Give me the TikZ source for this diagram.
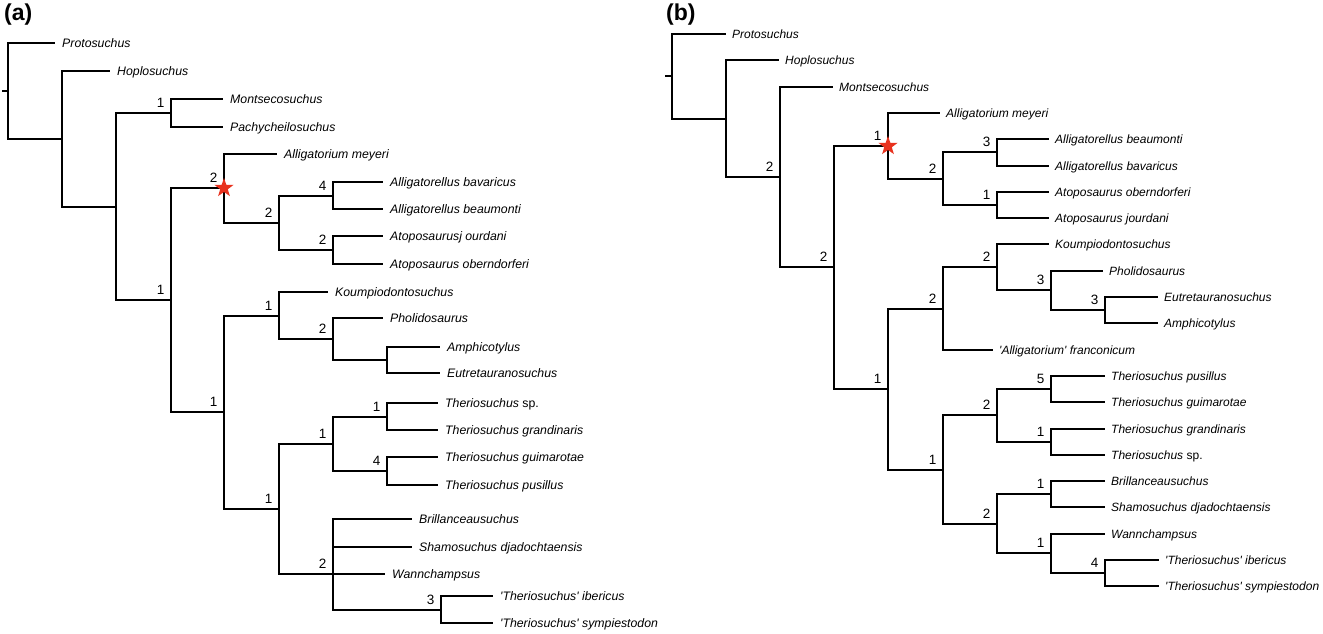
\documentclass[tikz,border=0pt]{standalone}
\usepackage{fontspec}
\setmainfont{Liberation Sans}
\usetikzlibrary{shapes.geometric}
\definecolor{starred}{HTML}{E8321E}
\begin{document}
\begin{tikzpicture}[x=1pt,y=-1pt,
  br/.style={line width=2pt,black},
  leaf/.style={anchor=base west,inner sep=0pt,font=\fontsize{12.3}{14}\selectfont\itshape,xshift=7pt,yshift=-4.8pt},
  leafb/.style={anchor=base west,inner sep=0pt,font=\fontsize{12}{14}\selectfont\itshape,xshift=6pt,yshift=-4.6pt},
  supp/.style={anchor=base east,inner sep=0pt,font=\fontsize{13.5}{15}\selectfont,xshift=-6.5pt,yshift=5.5pt},
  panel/.style={anchor=base west,inner sep=0pt,font=\fontsize{23}{26}\selectfont\bfseries},
  starnode/.style={star,star points=5,star point ratio=2.5,minimum size=20pt,inner sep=0pt,fill=starred,draw=none}]
\useasboundingbox (0,0) rectangle (1323,633);

% ---------------- panel (a) ----------------
\node[panel] (pa) at (4,20.5) {(a)};
\coordinate (aS) at (2,91);
\coordinate (aR) at (8,91);
\coordinate (a1) at (62,139);
\coordinate (a2) at (116,207);
\coordinate (a3) at (171,113);
\coordinate (a4) at (171,300);
\coordinate (a5) at (224,188);
\coordinate (a6) at (224,412);
\coordinate (a7) at (279,223);
\coordinate (a8) at (333,196);
\coordinate (a9) at (333,250);
\coordinate (a10) at (279,316);
\coordinate (a11) at (279,509);
\coordinate (a12) at (333,339);
\coordinate (a13) at (387,360);
\coordinate (a14) at (333,444);
\coordinate (a15) at (333,574);
\coordinate (a16) at (387,417);
\coordinate (a17) at (387,471);
\coordinate (a18) at (441,610);

\coordinate (aL1) at (55,43);
\coordinate (aL2) at (110,71);
\coordinate (aL3) at (223,99);
\coordinate (aL4) at (223,127);
\coordinate (aL5) at (277,154);
\coordinate (aL6) at (383,182);
\coordinate (aL7) at (383,209);
\coordinate (aL8) at (383,236);
\coordinate (aL9) at (383,264);
\coordinate (aL10) at (328,292);
\coordinate (aL11) at (383,318);
\coordinate (aL12) at (440,347);
\coordinate (aL13) at (440,373);
\coordinate (aL14) at (438,403);
\coordinate (aL15) at (438,430);
\coordinate (aL16) at (438,457);
\coordinate (aL17) at (438,485);
\coordinate (aL18) at (412,519);
\coordinate (aL19) at (412,547);
\coordinate (aL20) at (385,574);
\coordinate (aL21) at (493,596);
\coordinate (aL22) at (493,623);

\draw[br] (aS) -- (aR);
\draw[br] (aR) |- (aL1);
\draw[br] (aR) |- (a1);
\draw[br] (a1) |- (aL2);
\draw[br] (a1) |- (a2);
\draw[br] (a2) |- (a3);
\draw[br] (a2) |- (a4);
\draw[br] (a3) |- (aL3);
\draw[br] (a3) |- (aL4);
\draw[br] (a4) |- (a5);
\draw[br] (a4) |- (a6);
\draw[br] (a5) |- (aL5);
\draw[br] (a5) |- (a7);
\draw[br] (a7) |- (a8);
\draw[br] (a7) |- (a9);
\draw[br] (a8) |- (aL6);
\draw[br] (a8) |- (aL7);
\draw[br] (a9) |- (aL8);
\draw[br] (a9) |- (aL9);
\draw[br] (a6) |- (a10);
\draw[br] (a6) |- (a11);
\draw[br] (a10) |- (aL10);
\draw[br] (a10) |- (a12);
\draw[br] (a12) |- (aL11);
\draw[br] (a12) |- (a13);
\draw[br] (a13) |- (aL12);
\draw[br] (a13) |- (aL13);
\draw[br] (a11) |- (a14);
\draw[br] (a11) |- (a15);
\draw[br] (a14) |- (a16);
\draw[br] (a14) |- (a17);
\draw[br] (a16) |- (aL14);
\draw[br] (a16) |- (aL15);
\draw[br] (a17) |- (aL16);
\draw[br] (a17) |- (aL17);
\draw[br] (a15) |- (aL18);
\draw[br] (a15) |- (aL19);
\draw[br] (a15) |- (aL20);
\draw[br] (a15) |- (a18);
\draw[br] (a18) |- (aL21);
\draw[br] (a18) |- (aL22);

\node[leaf] (taL1) at (aL1) {Protosuchus};
\node[leaf] (taL2) at (aL2) {Hoplosuchus};
\node[leaf] (taL3) at (aL3) {Montsecosuchus};
\node[leaf] (taL4) at (aL4) {Pachycheilosuchus};
\node[leaf] (taL5) at (aL5) {Alligatorium meyeri};
\node[leaf] (taL6) at (aL6) {Alligatorellus bavaricus};
\node[leaf] (taL7) at (aL7) {Alligatorellus beaumonti};
\node[leaf] (taL8) at (aL8) {Atoposaurusj ourdani};
\node[leaf] (taL9) at (aL9) {Atoposaurus oberndorferi};
\node[leaf] (taL10) at (aL10) {Koumpiodontosuchus};
\node[leaf] (taL11) at (aL11) {Pholidosaurus};
\node[leaf] (taL12) at (aL12) {Amphicotylus};
\node[leaf] (taL13) at (aL13) {Eutretauranosuchus};
\node[leaf] (taL14) at (aL14) {Theriosuchus\/ \upshape sp.};
\node[leaf] (taL15) at (aL15) {Theriosuchus grandinaris};
\node[leaf] (taL16) at (aL16) {Theriosuchus guimarotae};
\node[leaf] (taL17) at (aL17) {Theriosuchus pusillus};
\node[leaf] (taL18) at (aL18) {Brillanceausuchus};
\node[leaf] (taL19) at (aL19) {Shamosuchus djadochtaensis};
\node[leaf] (taL20) at (aL20) {Wannchampsus};
\node[leaf] (taL21) at (aL21) {\textquotesingle Theriosuchus\textquotesingle\ ibericus};
\node[leaf] (taL22) at (aL22) {\textquotesingle Theriosuchus\textquotesingle\ sympiestodon};

\node[supp] (sa3) at (a3) {1};
\node[supp] (sa4) at (a4) {1};
\node[supp] (sa5) at (a5) {2};
\node[supp] (sa6) at (a6) {1};
\node[supp] (sa7) at (a7) {2};
\node[supp] (sa8) at (a8) {4};
\node[supp] (sa9) at (a9) {2};
\node[supp] (sa10) at (a10) {1};
\node[supp] (sa11) at (a11) {1};
\node[supp] (sa12) at (a12) {2};
\node[supp] (sa14) at (a14) {1};
\node[supp] (sa15) at (a15) {2};
\node[supp] (sa16) at (a16) {1};
\node[supp] (sa17) at (a17) {4};
\node[supp] (sa18) at (a18) {3};

\node[starnode] (stara) at (a5) {};

% ---------------- panel (b) ----------------
\node[panel] (pb) at (666,20.5) {(b)};
\coordinate (bS) at (665,76);
\coordinate (bR) at (672,76);
\coordinate (b1) at (726,119);
\coordinate (b2) at (780,177);
\coordinate (b3) at (834,267);
\coordinate (b4) at (888,146);
\coordinate (b5) at (888,389);
\coordinate (b6) at (943,179);
\coordinate (b7) at (997,152);
\coordinate (b8) at (997,205);
\coordinate (b9) at (943,309);
\coordinate (b10) at (943,470);
\coordinate (b11) at (997,267);
\coordinate (b12) at (1051,290);
\coordinate (b13) at (1105,310);
\coordinate (b14) at (997,415);
\coordinate (b15) at (997,524);
\coordinate (b16) at (1051,389);
\coordinate (b17) at (1051,442);
\coordinate (b18) at (1051,494);
\coordinate (b19) at (1051,553);
\coordinate (b20) at (1105,573);

\coordinate (bL1) at (726,34);
\coordinate (bL2) at (779,60);
\coordinate (bL3) at (833,87);
\coordinate (bL4) at (940,113);
\coordinate (bL5) at (1049,139);
\coordinate (bL6) at (1049,166);
\coordinate (bL7) at (1049,192);
\coordinate (bL8) at (1049,218);
\coordinate (bL9) at (1049,244);
\coordinate (bL10) at (1103,271);
\coordinate (bL11) at (1158,297);
\coordinate (bL12) at (1158,323);
\coordinate (bL13) at (993,350);
\coordinate (bL14) at (1105,376);
\coordinate (bL15) at (1105,402);
\coordinate (bL16) at (1105,429);
\coordinate (bL17) at (1105,455);
\coordinate (bL18) at (1105,481);
\coordinate (bL19) at (1105,507);
\coordinate (bL20) at (1105,534);
\coordinate (bL21) at (1159,560);
\coordinate (bL22) at (1159,586);

\draw[br] (bS) -- (bR);
\draw[br] (bR) |- (bL1);
\draw[br] (bR) |- (b1);
\draw[br] (b1) |- (bL2);
\draw[br] (b1) |- (b2);
\draw[br] (b2) |- (bL3);
\draw[br] (b2) |- (b3);
\draw[br] (b3) |- (b4);
\draw[br] (b3) |- (b5);
\draw[br] (b4) |- (bL4);
\draw[br] (b4) |- (b6);
\draw[br] (b6) |- (b7);
\draw[br] (b6) |- (b8);
\draw[br] (b7) |- (bL5);
\draw[br] (b7) |- (bL6);
\draw[br] (b8) |- (bL7);
\draw[br] (b8) |- (bL8);
\draw[br] (b5) |- (b9);
\draw[br] (b5) |- (b10);
\draw[br] (b9) |- (b11);
\draw[br] (b9) |- (bL13);
\draw[br] (b11) |- (bL9);
\draw[br] (b11) |- (b12);
\draw[br] (b12) |- (bL10);
\draw[br] (b12) |- (b13);
\draw[br] (b13) |- (bL11);
\draw[br] (b13) |- (bL12);
\draw[br] (b10) |- (b14);
\draw[br] (b10) |- (b15);
\draw[br] (b14) |- (b16);
\draw[br] (b14) |- (b17);
\draw[br] (b16) |- (bL14);
\draw[br] (b16) |- (bL15);
\draw[br] (b17) |- (bL16);
\draw[br] (b17) |- (bL17);
\draw[br] (b15) |- (b18);
\draw[br] (b15) |- (b19);
\draw[br] (b18) |- (bL18);
\draw[br] (b18) |- (bL19);
\draw[br] (b19) |- (bL20);
\draw[br] (b19) |- (b20);
\draw[br] (b20) |- (bL21);
\draw[br] (b20) |- (bL22);

\node[leafb] (tbL1) at (bL1) {Protosuchus};
\node[leafb] (tbL2) at (bL2) {Hoplosuchus};
\node[leafb] (tbL3) at (bL3) {Montsecosuchus};
\node[leafb] (tbL4) at (bL4) {Alligatorium meyeri};
\node[leafb] (tbL5) at (bL5) {Alligatorellus beaumonti};
\node[leafb] (tbL6) at (bL6) {Alligatorellus bavaricus};
\node[leafb] (tbL7) at (bL7) {Atoposaurus oberndorferi};
\node[leafb] (tbL8) at (bL8) {Atoposaurus jourdani};
\node[leafb] (tbL9) at (bL9) {Koumpiodontosuchus};
\node[leafb] (tbL10) at (bL10) {Pholidosaurus};
\node[leafb] (tbL11) at (bL11) {Eutretauranosuchus};
\node[leafb] (tbL12) at (bL12) {Amphicotylus};
\node[leafb] (tbL13) at (bL13) {\textquotesingle Alligatorium\textquotesingle\ franconicum};
\node[leafb] (tbL14) at (bL14) {Theriosuchus pusillus};
\node[leafb] (tbL15) at (bL15) {Theriosuchus guimarotae};
\node[leafb] (tbL16) at (bL16) {Theriosuchus grandinaris};
\node[leafb] (tbL17) at (bL17) {Theriosuchus\/ \upshape sp.};
\node[leafb] (tbL18) at (bL18) {Brillanceausuchus};
\node[leafb] (tbL19) at (bL19) {Shamosuchus djadochtaensis};
\node[leafb] (tbL20) at (bL20) {Wannchampsus};
\node[leafb] (tbL21) at (bL21) {\textquotesingle Theriosuchus\textquotesingle\ ibericus};
\node[leafb] (tbL22) at (bL22) {\textquotesingle Theriosuchus\textquotesingle\ sympiestodon};

\node[supp] (sb2) at (b2) {2};
\node[supp] (sb3) at (b3) {2};
\node[supp] (sb4) at (b4) {1};
\node[supp] (sb5) at (b5) {1};
\node[supp] (sb6) at (b6) {2};
\node[supp] (sb7) at (b7) {3};
\node[supp] (sb8) at (b8) {1};
\node[supp] (sb9) at (b9) {2};
\node[supp] (sb10) at (b10) {1};
\node[supp] (sb11) at (b11) {2};
\node[supp] (sb12) at (b12) {3};
\node[supp] (sb13) at (b13) {3};
\node[supp] (sb14) at (b14) {2};
\node[supp] (sb15) at (b15) {2};
\node[supp] (sb16) at (b16) {5};
\node[supp] (sb17) at (b17) {1};
\node[supp] (sb18) at (b18) {1};
\node[supp] (sb19) at (b19) {1};
\node[supp] (sb20) at (b20) {4};

\node[starnode] (starb) at (b4) {};
\end{tikzpicture}
\end{document}
